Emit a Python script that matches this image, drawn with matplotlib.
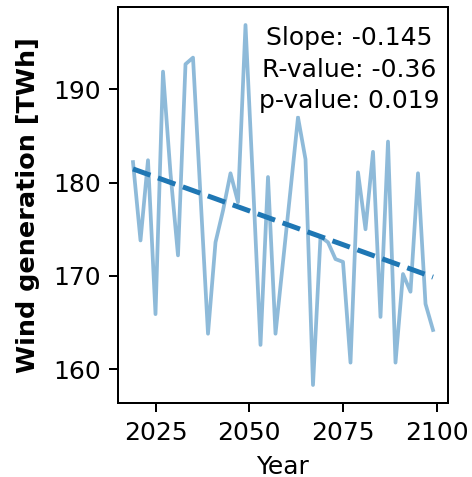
import numpy as np
import matplotlib
matplotlib.use("Agg")
import matplotlib.pyplot as plt

# biennial wind generation over the projection period
years = np.arange(2019, 2100, 2)
wind_twh = [
    182.2, 173.8, 182.4, 165.9, 191.9, 181.0, 172.2, 192.7, 193.4, 178.6,
    163.8, 173.6, 177.0, 181.0, 177.9, 196.9, 180.0, 162.6, 180.6, 163.8,
    171.5, 179.2, 187.0, 182.5, 158.3, 174.2, 173.6, 171.8, 171.5, 160.7,
    181.1, 175.0, 183.3, 165.6, 184.4, 160.7, 170.2, 168.3, 181.0, 167.0,
    164.2,
]

# linear regression summary
slope = -0.145
r_value = -0.36
p_value = 0.019

wind = np.array(wind_twh)
intercept = wind.mean() - slope * years.mean()
trend = intercept + slope * years

dpi = 180
fig = plt.figure(figsize=(472 / dpi, 477 / dpi), dpi=dpi)
ax = fig.add_axes([118 / 472, 1 - 403 / 477, 330 / 472, 396 / 477])

ax.plot(years, wind, color='tab:blue', alpha=0.5, lw=1.5)
ax.plot(years, trend, '--', color='tab:blue', lw=2)

ax.text(0.70, 0.952,
        f'Slope: {slope:.3f}\nR-value: {r_value:.2f}\np-value: {p_value:.3f}',
        transform=ax.transAxes, ha='center', va='top', ma='center',
        linespacing=1.4,
        bbox=dict(facecolor='white', edgecolor='none', alpha=0.8, pad=1))

ax.set_xticks([2025, 2050, 2075, 2100])
ax.set_yticks([160, 170, 180, 190])
ax.set_xlabel('Year')
ax.set_ylabel('Wind generation [TWh]', fontweight='bold', fontsize=10.2, labelpad=5)

fig.savefig('out.png', dpi=dpi)
